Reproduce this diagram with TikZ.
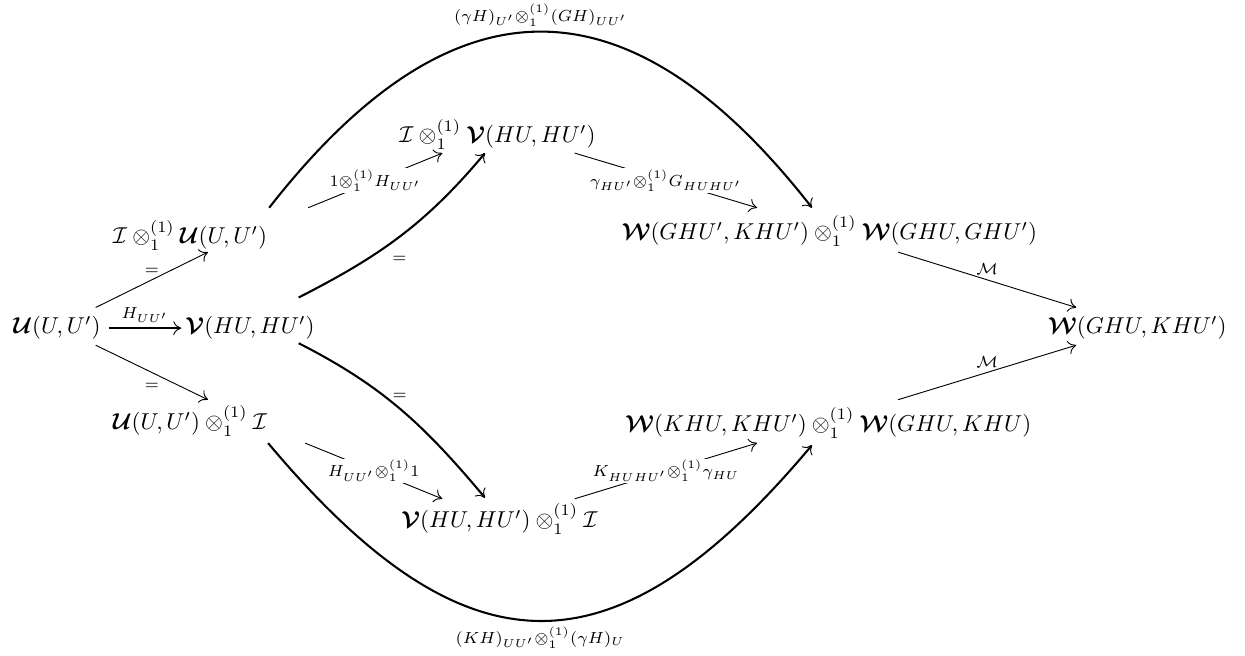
\documentclass[tikz,border=0pt]{standalone}
\usepackage{amsmath,amssymb}
\usepackage{bm}
\usetikzlibrary{arrows.meta}

\newcommand{\catU}{\bm{\mathcal{U}}}
\newcommand{\catV}{\bm{\mathcal{V}}}
\newcommand{\catW}{\bm{\mathcal{W}}}
\newcommand{\unitI}{\mathcal{I}}
\newcommand{\tens}{\otimes_1^{(1)}}

\begin{document}
\begin{tikzpicture}[
        scale=1.075,
        obj/.style={anchor=base, inner sep=3.33pt},
        lab/.style={inner sep=2pt},
        brk/.style={fill=white, inner sep=0.5pt, pos=0.5},
        arr/.style={-{To[length=3.5pt, width=6pt]}, line width=0.4pt},
        heavy/.style={-{To[length=3.5pt, width=6pt, line width=0.4pt]}, line width=0.9pt},
    ]
    \useasboundingbox (0,0) rectangle (17.72,9.335);

    % objects
    \node[obj] (u) at (0.811,4.582) {$\catU(U,U')$};
    \node[obj] (v) at (3.558,4.582) {$\catV(HU,HU')$};
    \node[obj] (iu) at (2.704,5.863) {$\unitI\tens\catU(U,U')$};
    \node[obj] (ui) at (2.704,3.216) {$\catU(U,U')\tens\unitI$};
    \node[obj] (iv) at (7.080,7.300) {$\unitI\tens\catV(HU,HU')$};
    \node[obj] (vi) at (7.108,1.821) {$\catV(HU,HU')\tens\unitI$};
    \node[obj] (wg) at (11.804,5.920) {$\catW(GHU',KHU')\tens\catW(GHU,GHU')$};
    \node[obj] (wk) at (11.790,3.188) {$\catW(KHU,KHU')\tens\catW(GHU,KHU)$};
    \node[obj] (w) at (16.187,4.582) {$\catW(GHU,KHU')$};

    % left fan
    \draw[heavy] (u.east) -- ([xshift=0.57mm]v.west) node[lab, midway, above] {$\scriptstyle H_{UU'}$};
    \draw[arr] ([shift={(-1.85mm,0.14mm)}]u.north east) -- ([shift={(2.56mm,0.85mm)}]iu.south) node[lab, midway, above] {$\scriptstyle =$};
    \draw[arr] ([shift={(-1.85mm,0.36mm)}]u.south east) -- ([shift={(2.56mm,-0.28mm)}]ui.north) node[lab, midway, below=2.5pt] {$\scriptstyle =$};

    % unit laws
    \draw[heavy] ([shift={(-3.42mm,1.57mm)}]v.north east) to[out=27, in=230] node[lab, pos=0.5, below right, xshift=-2.1mm, yshift=-2.3mm] {$\scriptstyle =$} ([shift={(-1.78mm,0.57mm)}]iv.south);
    \draw[heavy] ([shift={(-3.42mm,0.64mm)}]v.south east) to[out=-27, in=130] node[lab, pos=0.5, above right, xshift=-2.1mm, yshift=0.7mm] {$\scriptstyle =$} ([shift={(-2.06mm,-0.28mm)}]vi.north);

    % broken arrows
    \draw[arr] ([shift={(4.70mm,0.57mm)}]iu.north east) -- ([shift={(7.26mm,0.57mm)}]iv.south west) node[brk] {$\scriptstyle 1\tens H_{UU'}$};
    \draw[arr] ([shift={(-4.13mm,0.57mm)}]iv.south east) -- ([shift={(-10.3mm,0mm)}]wg.north) node[brk] {$\scriptstyle \gamma_{HU'}\tens G_{HUHU'}$};
    \draw[arr] ([shift={(4.27mm,0.14mm)}]ui.south east) -- ([shift={(6.97mm,-0.43mm)}]vi.north west) node[brk] {$\scriptstyle H_{UU'}\tens 1$};
    \draw[arr] ([shift={(-4.41mm,-0.43mm)}]vi.north east) -- ([shift={(-10.17mm,0.43mm)}]wk.south) node[brk] {$\scriptstyle K_{HUHU'}\tens\gamma_{HU}$};

    % outer arcs
    \draw[heavy] ([shift={(-0.85mm,0.57mm)}]iu.north east) .. controls +(52:4.24) and +(128:4.24) .. ([shift={(-2.49mm,0mm)}]wg.north) node[lab, pos=0.5, above] {$\scriptstyle (\gamma H)_{U'}\tens(GH)_{UU'}$};
    \draw[heavy] ([shift={(-1.0mm,0.14mm)}]ui.south east) .. controls +(-50:4.38) and +(-130:4.38) .. ([shift={(-2.35mm,0.14mm)}]wk.south) node[lab, pos=0.5, below] {$\scriptstyle (KH)_{UU'}\tens(\gamma H)_U$};

    % composition
    \draw[arr] ([shift={(9.75mm,0.28mm)}]wg.south) -- ([shift={(5.12mm,0.14mm)}]w.north west) node[lab, midway, above] {$\scriptstyle\mathcal{M}$};
    \draw[arr] ([shift={(9.89mm,0mm)}]wk.north) -- ([shift={(5.12mm,0.36mm)}]w.south west) node[lab, midway, above] {$\scriptstyle\mathcal{M}$};
\end{tikzpicture}
\end{document}
